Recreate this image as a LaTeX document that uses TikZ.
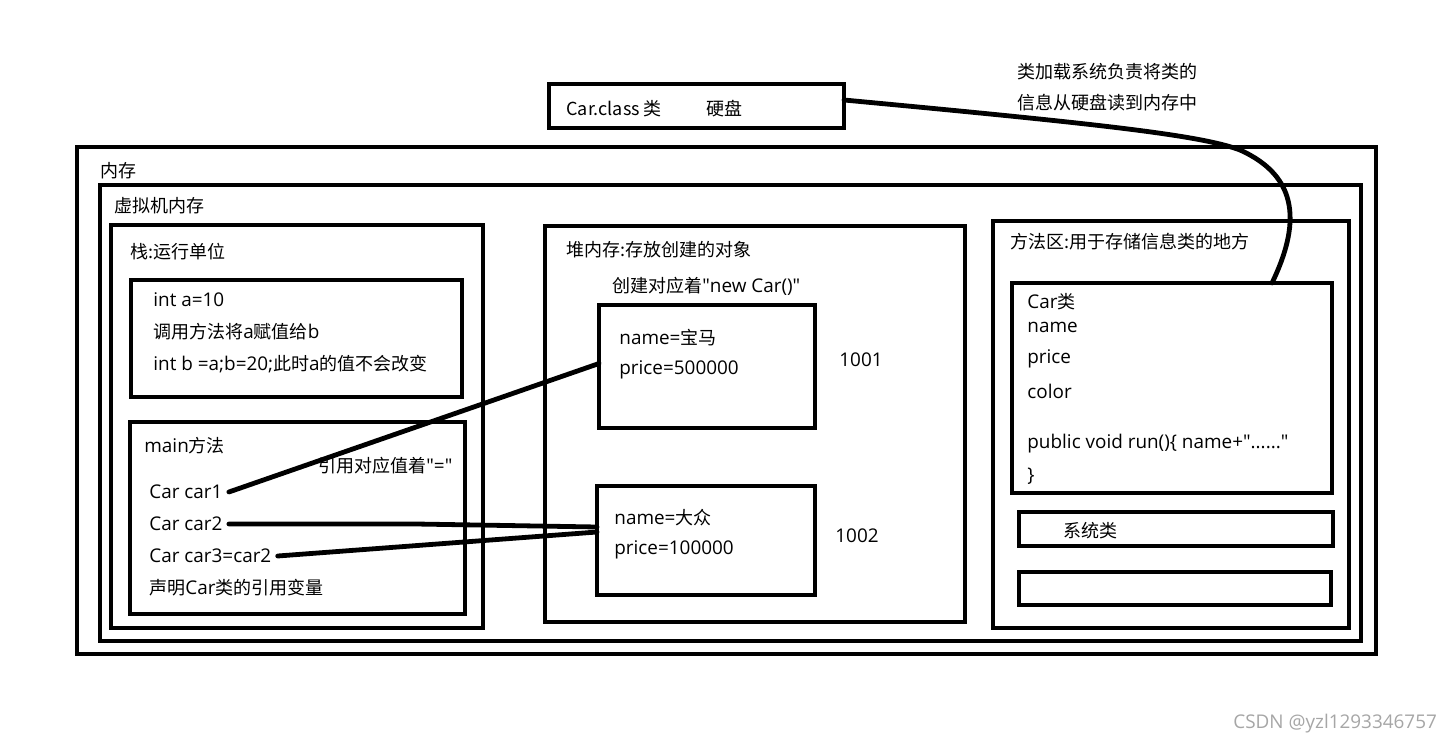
\documentclass[tikz,border=0pt]{standalone}
\usepackage{fontspec}
\setmainfont{Noto Sans CJK SC}
\newfontfamily\lat{Open Sans}[Scale=1.05]
\newcommand{\qq}{\textquotedbl}
\begin{document}
\begin{tikzpicture}[x=0.5pt,y=-0.5pt,
    box/.style={draw,line width=2.4pt,inner sep=0pt,outer sep=0pt,anchor=north west},
    txt/.style={anchor=west,inner sep=0pt,font=\fontsize{9}{10}\selectfont},
    wire/.style={line width=2.4pt,line cap=round}]
\useasboundingbox (0,0) rectangle (1451,744);
% boxes
\node[box,minimum width=147.5pt,minimum height=22pt] (disk) at (549,84) {};
\node[box,minimum width=649.5pt,minimum height=253.5pt] (mem) at (77,147) {};
\node[box,minimum width=630.5pt,minimum height=228pt] (jvm) at (100,185) {};
\node[box,minimum width=186pt,minimum height=201.5pt] (stack) at (111,225) {};
\node[box,minimum width=165.5pt,minimum height=58.5pt] (frame) at (131,280) {};
\node[box,minimum width=167.5pt,minimum height=96pt] (mainf) at (130,422) {};
\node[box,minimum width=210pt,minimum height=198pt] (heap) at (545,226) {};
\node[box,minimum width=108pt,minimum height=61.5pt] (obj1) at (599,305) {};
\node[box,minimum width=109pt,minimum height=54.5pt] (obj2) at (597,486) {};
\node[box,minimum width=178pt,minimum height=203.5pt] (method) at (993,221) {};
\node[box,minimum width=160pt,minimum height=105pt] (carcls) at (1012,283) {};
\node[box,minimum width=157pt,minimum height=17pt] (sysbox) at (1019,512) {};
\node[box,minimum width=156pt,minimum height=16.5pt] (spare) at (1019,572) {};
% texts
\node[txt] (disklbl) at (566,109) {Car.class 类};
\node[txt] (hdd) at (706,109) {硬盘};
\node[txt] (load1) at (1017,72) {类加载系统负责将类的};
\node[txt] (load2) at (1017,103) {信息从硬盘读到内存中};
\node[txt] (memlbl) at (100,171) {内存};
\node[txt] (jvmlbl) at (114,206) {虚拟机内存};
\node[txt] (stacklbl) at (130,252) {栈:运行单位};
\node[txt] (ia) at (153,300) {\lat int a=10};
\node[txt] (call) at (153,332) {调用方法将{\lat a}赋值给{\lat b}};
\node[txt] (ib) at (153,364) {{\lat int b =a;b=20;}此时{\lat a}的值不会改变};
\node[txt] (mainlbl) at (144,446) {{\lat main}方法};
\node[txt] (reflbl) at (318,466) {引用对应值着{\lat\qq=\qq}};
\node[txt] (car1) at (149,492) {\lat Car car1};
\node[txt] (car2) at (149,524) {\lat Car car2};
\node[txt] (car3) at (149,556) {\lat Car car3=car2};
\node[txt] (decl) at (149,588) {声明{\lat Car}类的引用变量};
\node[txt] (heaplbl) at (566,250) {堆内存:存放创建的对象};
\node[txt] (newlbl) at (612,286) {创建对应着{\lat\qq new Car()\qq}};
\node[txt] (n1) at (619,338) {{\lat name=}宝马};
\node[txt] (p1) at (619,370) {\lat price=500000};
\node[txt] (addr1) at (839,360) {\lat 1001};
\node[txt] (n2) at (614,518) {{\lat name=}大众};
\node[txt] (p2) at (614,550) {\lat price=100000};
\node[txt] (addr2) at (835,536) {\lat 1002};
\node[txt] (methlbl) at (1010,242) {方法区:用于存储信息类的地方};
\node[txt] (clsname) at (1027,302) {{\lat Car}类};
\node[txt] (fname) at (1027,327) {\lat name};
\node[txt] (fprice) at (1027,359) {\lat price};
\node[txt] (fcolor) at (1027,391) {\lat color};
\node[txt] (frun) at (1027,444) {\lat public void run()\{ name+\qq......\qq};
\node[txt] (fend) at (1027,476) {\lat \}};
\node[txt] (syslbl) at (1063,531) {系统类};
\node[txt,text=black!35] (mark) at (1233,724) {\lat CSDN @yzl1293346757};
% references
\draw[wire] ([xshift=3pt]car1.east) -- ([yshift=1.5pt]obj1.west);
\draw[wire] ([xshift=3pt]car2.east) -- ++(187,0) -- ([yshift=6.75pt]obj2.west);
\draw[wire] ([xshift=3pt]car3.east) -- ([yshift=4.25pt]obj2.west);
% class loading
\draw[wire] ([yshift=3pt]disk.east) .. controls (1100,124) and (1200,135) .. (1240,150)
    .. controls (1300,177) and (1300,225) .. ([xshift=50pt]carcls.north);
\end{tikzpicture}
\end{document}
